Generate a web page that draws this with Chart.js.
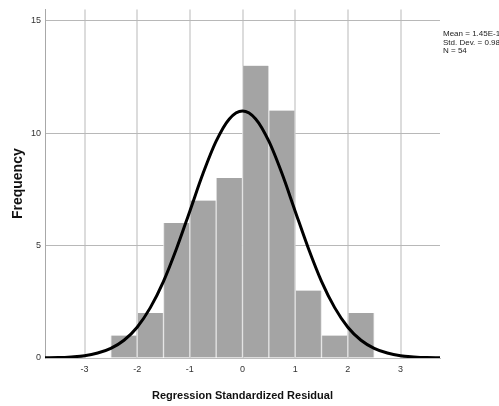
<!DOCTYPE html>
<html>
<head>
<meta charset="utf-8">
<script src="https://cdn.jsdelivr.net/npm/chart.js@4/dist/chart.umd.min.js"></script>
<style>
  html, body { margin: 0; padding: 0; background: #ffffff; }
  canvas { display: block; }
</style>
</head>
<body>
<canvas id="c" width="499" height="406"></canvas>
<script>
// Histogram bins (centers of 0.5-wide bins) and frequencies
const binCenters = [-2.25, -1.75, -1.25, -0.75, -0.25, 0.25, 0.75, 1.25, 1.75, 2.25];
const frequencies = [1, 2, 6, 7, 8, 13, 11, 3, 1, 2];

// Normal curve overlay (x, frequency)
const curveX = [-3.75, -3.5, -3.25, -3, -2.75, -2.5, -2.25, -2, -1.75, -1.5, -1.25, -1, -0.75, -0.5, -0.25,
                0, 0.25, 0.5, 0.75, 1, 1.25, 1.5, 1.75, 2, 2.25, 2.5, 2.75, 3, 3.25, 3.5, 3.75];
const curveY = [0.01, 0.02, 0.05, 0.10, 0.22, 0.43, 0.79, 1.37, 2.24, 3.41, 4.88, 6.53, 8.20, 9.64, 10.63,
                10.98, 10.63, 9.64, 8.20, 6.53, 4.88, 3.41, 2.24, 1.37, 0.79, 0.43, 0.22, 0.10, 0.05, 0.02, 0.01];

// Tick labels
const xTicks = [-3, -2, -1, 0, 1, 2, 3];
const yTicks = [0, 5, 10, 15];

// Summary statistics text
const statsLines = ["Mean = 1.45E-15", "Std. Dev. = 0.981", "N = 54"];

const sans = "'Liberation Sans', Arial, sans-serif";

const statsPlugin = {
  id: 'stats',
  afterDraw(chart) {
    const ctx = chart.ctx;
    ctx.save();
    ctx.font = "8px " + sans;
    ctx.fillStyle = '#222222';
    ctx.textAlign = 'left';
    ctx.textBaseline = 'alphabetic';
    const x = chart.chartArea.right + 3;
    statsLines.forEach((t, i) => ctx.fillText(t, x, 36 + i * 8.5));
    ctx.restore();
  }
};

new Chart(document.getElementById('c'), {
  data: {
    datasets: [
      {
        type: 'line',
        data: curveX.map((x, i) => ({ x: x, y: curveY[i] })),
        borderColor: '#000000',
        borderWidth: 3,
        pointRadius: 0,
        fill: false,
        cubicInterpolationMode: 'monotone',
        order: 0
      },
      {
        type: 'bar',
        data: binCenters.map((x, i) => ({ x: x, y: frequencies[i] })),
        backgroundColor: '#a4a4a4',
        borderColor: '#e4e4e4',
        borderWidth: { left: 1, right: 1, top: 0, bottom: 0 },
        borderSkipped: false,
        barPercentage: 1,
        categoryPercentage: 1,
        order: 1
      }
    ]
  },
  options: {
    responsive: false,
    animation: false,
    layout: { padding: { top: 8, right: 59, left: 0, bottom: 0 } },
    plugins: { legend: { display: false }, tooltip: { enabled: false } },
    scales: {
      x: {
        type: 'linear',
        min: -3.75,
        max: 3.75,
        offset: false,
        afterBuildTicks: s => { s.ticks = xTicks.map(v => ({ value: v })); },
        afterFit: s => { s.height = 48; },
        grid: { color: '#dcdcdc', lineWidth: 2, drawTicks: false, offset: false },
        border: { display: true, color: '#bdbdbd', width: 1 },
        ticks: { padding: 6, color: '#333333', font: { size: 9, family: sans }, maxRotation: 0 },
        title: {
          display: true,
          text: 'Regression Standardized Residual',
          color: '#111111',
          font: { size: 11, weight: 'bold', family: sans },
          padding: { top: 0, bottom: 3 }
        }
      },
      y: {
        type: 'linear',
        min: 0,
        max: 15.5,
        afterBuildTicks: s => { s.ticks = yTicks.map(v => ({ value: v })); },
        afterFit: s => { s.width = 45; },
        grid: { color: '#b8b8b8', lineWidth: 1, drawTicks: false },
        border: { display: true, color: '#a8a8a8', width: 1 },
        ticks: { padding: 4, color: '#333333', font: { size: 9, family: sans } },
        title: {
          display: true,
          text: 'Frequency',
          color: '#111111',
          font: { size: 14, weight: 'bold', family: sans },
          padding: { top: 10, bottom: 0 }
        }
      }
    }
  },
  plugins: [statsPlugin]
});
</script>
</body>
</html>
